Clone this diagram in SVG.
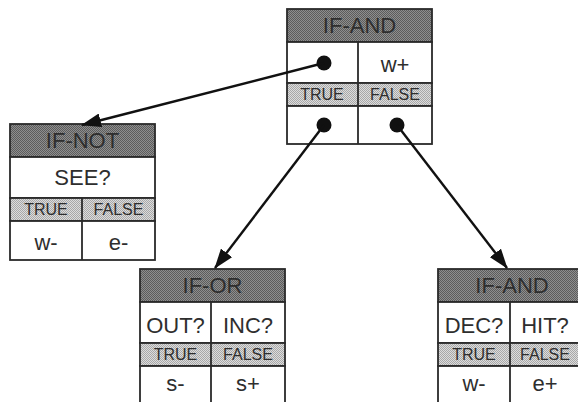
<svg xmlns="http://www.w3.org/2000/svg" width="578" height="402" viewBox="0 0 578 402">
<defs>
<pattern id="dark" width="2" height="2" patternUnits="userSpaceOnUse">
<rect width="2" height="2" fill="#8e8e8e"/>
<rect width="1" height="1" fill="#5c5c5c"/>
<rect x="1" y="1" width="1" height="1" fill="#5c5c5c"/>
</pattern>
<pattern id="light" width="2" height="2" patternUnits="userSpaceOnUse">
<rect width="2" height="2" fill="#dcdcdc"/>
<rect width="1" height="1" fill="#a8a8a8"/>
<rect x="1" y="1" width="1" height="1" fill="#a8a8a8"/>
</pattern>
<marker id="arr" markerWidth="20" markerHeight="14" refX="19" refY="7" orient="auto" markerUnits="userSpaceOnUse">
<path d="M0,0 L20,7 L0,14 Z" fill="#111"/>
</marker>
<style>
.hd{fill:url(#dark);stroke:#2a2a2a;stroke-width:1.8}
.tf{fill:url(#light);stroke:#2a2a2a;stroke-width:1.8}
.cell{fill:#fff;stroke:#2a2a2a;stroke-width:1.8}
.ln{stroke:#2a2a2a;stroke-width:1.8}
text{font-family:"Liberation Sans",Arial,sans-serif;fill:#2e2e2e;text-anchor:middle}
.t1{font-size:22px}
.t2{font-size:16px}
.con{stroke:#111;stroke-width:2.4;fill:none}
.dot{fill:#111}
</style>
</defs>
<rect width="578" height="402" fill="#fff"/>

<g id="node-top">
<rect class="hd" x="287" y="9" width="145" height="33"/>
<rect class="cell" x="287" y="42" width="145" height="41"/>
<rect class="tf" x="287" y="83" width="145" height="23"/>
<rect class="cell" x="287" y="106" width="145" height="38"/>
<line class="ln" x1="358" y1="42" x2="358" y2="144"/>
<text class="t1" x="359.5" y="33">IF-AND</text>
<text class="t1" x="395" y="72">w+</text>
<text class="t2" x="322" y="100">TRUE</text>
<text class="t2" x="395" y="100">FALSE</text>
</g>

<g id="node-ifnot">
<rect class="hd" x="10" y="124" width="145" height="33"/>
<rect class="cell" x="10" y="157" width="145" height="41"/>
<rect class="tf" x="10" y="198" width="145" height="23"/>
<rect class="cell" x="10" y="221" width="145" height="39"/>
<line class="ln" x1="82" y1="198" x2="82" y2="260"/>
<text class="t1" x="82.5" y="148">IF-NOT</text>
<text class="t1" x="82.5" y="185">SEE?</text>
<text class="t2" x="46" y="215">TRUE</text>
<text class="t2" x="118.5" y="215">FALSE</text>
<text class="t1" x="46" y="250">w-</text>
<text class="t1" x="118.5" y="250">e-</text>
</g>

<g id="node-ifor">
<rect class="hd" x="140" y="269" width="145" height="33"/>
<rect class="cell" x="140" y="302" width="145" height="41"/>
<rect class="tf" x="140" y="343" width="145" height="23"/>
<rect class="cell" x="140" y="366" width="145" height="45"/>
<line class="ln" x1="211" y1="302" x2="211" y2="411"/>
<text class="t1" x="212.5" y="293">IF-OR</text>
<text class="t1" x="175.5" y="333">OUT?</text>
<text class="t1" x="248" y="333">INC?</text>
<text class="t2" x="175.5" y="360">TRUE</text>
<text class="t2" x="248" y="360">FALSE</text>
<text class="t1" x="175.5" y="391">s-</text>
<text class="t1" x="248" y="391">s+</text>
</g>

<g id="node-ifand2">
<rect class="hd" x="438" y="269" width="145" height="33"/>
<rect class="cell" x="438" y="302" width="145" height="41"/>
<rect class="tf" x="438" y="343" width="145" height="23"/>
<rect class="cell" x="438" y="366" width="145" height="45"/>
<line class="ln" x1="510" y1="302" x2="510" y2="411"/>
<text class="t1" x="512" y="293">IF-AND</text>
<text class="t1" x="474" y="333">DEC?</text>
<text class="t1" x="545" y="333">HIT?</text>
<text class="t2" x="474" y="360">TRUE</text>
<text class="t2" x="545" y="360">FALSE</text>
<text class="t1" x="474" y="391">w-</text>
<text class="t1" x="545" y="391">e+</text>
</g>

<g id="connectors">
<circle class="dot" cx="324" cy="63" r="7.5"/>
<circle class="dot" cx="324" cy="125" r="7.5"/>
<circle class="dot" cx="397" cy="125" r="7.5"/>
<line class="con" x1="324" y1="63" x2="82" y2="125" marker-end="url(#arr)"/>
<line class="con" x1="324" y1="125" x2="215" y2="268" marker-end="url(#arr)"/>
<line class="con" x1="397" y1="125" x2="507" y2="268" marker-end="url(#arr)"/>
</g>
</svg>
